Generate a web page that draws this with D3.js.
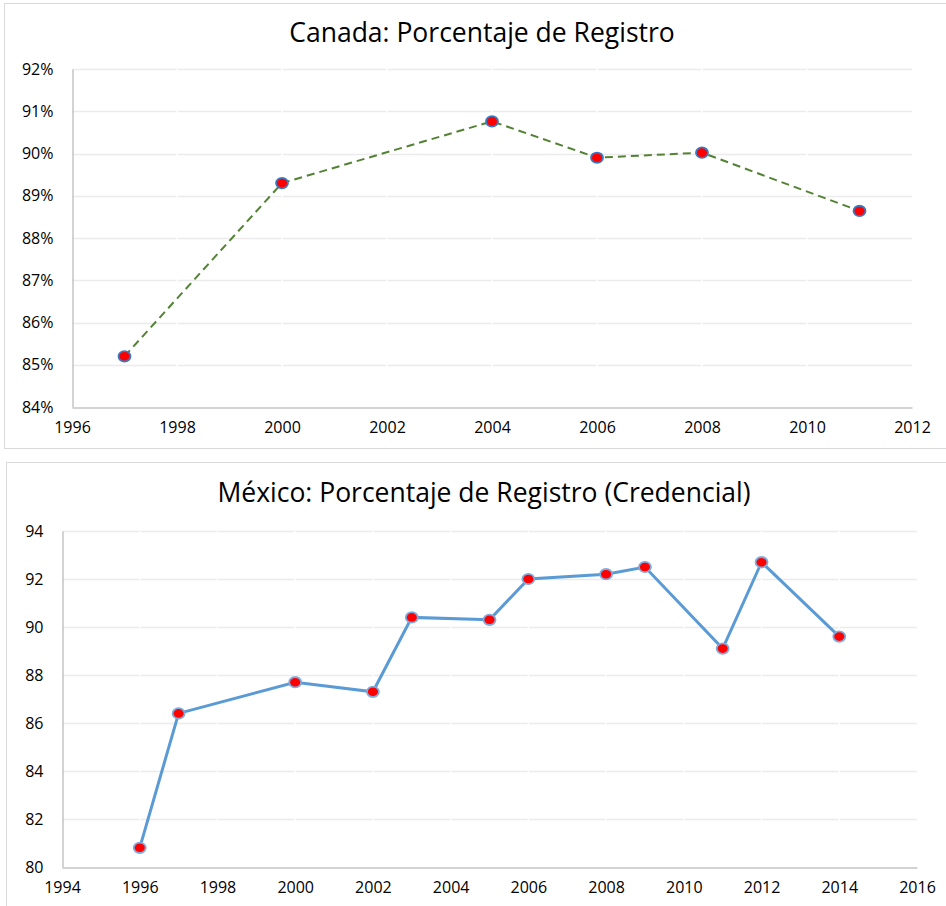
<!DOCTYPE html>
<html>
<head>
<meta charset="utf-8">
<script src="https://d3js.org/d3.v7.min.js"></script>
<style>
    body { margin: 0; background: #fff; }
    text { font-family: "Open Sans", "Noto Sans", sans-serif; fill: #404040; }
</style>
</head>
<body>
<div id="chart"></div>
<script>
// chart data //
var canadaYears = [1997, 2000, 2004, 2006, 2008, 2011];
var canadaValues = [85.2, 89.3, 90.76, 89.9, 90.02, 88.64];
var canadaXTicks = [1996, 1998, 2000, 2002, 2004, 2006, 2008, 2010, 2012];
var canadaYTicks = [84, 85, 86, 87, 88, 89, 90, 91, 92];

var mexicoYears = [1996, 1997, 2000, 2002, 2003, 2005, 2006, 2008, 2009, 2011, 2012, 2014];
var mexicoValues = [80.8, 86.4, 87.7, 87.3, 90.4, 90.3, 92.0, 92.2, 92.5, 89.1, 92.7, 89.6];
var mexicoXTicks = [1994, 1996, 1998, 2000, 2002, 2004, 2006, 2008, 2010, 2012, 2014, 2016];
var mexicoYTicks = [80, 82, 84, 86, 88, 90, 92, 94];

var svg = d3.select("#chart")
        .append("svg")
        .attr("width", 946)
        .attr("height", 906);

// draw one line chart panel
    function makeLineChart(opts){
        var g = svg.append("g");

        // outer frame
        g.append("rect")
            .attr("x", opts.box[0] + 0.5)
            .attr("y", opts.box[1] + 0.5)
            .attr("width", opts.box[2])
            .attr("height", opts.box[3])
            .attr("fill", "#fff")
            .attr("stroke", "#d9d9d9");

        g.append("text")
            .attr("x", opts.titleX)
            .attr("y", opts.titleY)
            .attr("text-anchor", "middle")
            .style("font-size", "26.5px")
            .style("fill", "#000")
            .text(opts.title);

        var x = d3.scaleLinear()
                .domain(d3.extent(opts.xTicks))
                .range([opts.left, opts.right]);

        var y = d3.scaleLinear()
                .domain(d3.extent(opts.yTicks))
                .range([opts.bottom, opts.top]);

        // horizontal gridlines
        g.selectAll(".hgrid")
            .data(opts.yTicks.slice(1))
            .enter()
            .append("line")
            .attr("x1", opts.left)
            .attr("x2", opts.right)
            .attr("y1", function(d){ return Math.round(y(d)) + 0.5; })
            .attr("y2", function(d){ return Math.round(y(d)) + 0.5; })
            .attr("stroke", "#ebebeb")
            .attr("stroke-width", 1.5);

        // white vertical gaps like the original
        g.selectAll(".vgrid")
            .data(opts.xTicks.slice(1, -1))
            .enter()
            .append("line")
            .attr("x1", function(d){ return x(d); })
            .attr("x2", function(d){ return x(d); })
            .attr("y1", opts.top)
            .attr("y2", opts.bottom - 1)
            .attr("stroke", "#fff")
            .attr("stroke-width", 1.5);

        // axes
        var xAxis = d3.axisBottom(x)
                .tickValues(opts.xTicks)
                .tickSize(0)
                .tickPadding(14)
                .tickFormat(d3.format("d"));

        var yAxis = d3.axisLeft(y)
                .tickValues(opts.yTicks)
                .tickSize(0)
                .tickPadding(opts.yPad)
                .tickFormat(opts.yFormat);

        var gx = g.append("g")
            .attr("transform", "translate(0," + (Math.round(opts.bottom) + 0.5) + ")")
            .call(xAxis);
        gx.select(".domain").attr("stroke", "#c4c4c4").attr("stroke-width", 1.5);
        gx.selectAll("text").style("font-size", "16px").style("fill", "#000");

        var gy = g.append("g")
            .attr("transform", "translate(" + (Math.round(opts.left) + 0.5) + ",0)")
            .call(yAxis);
        gy.select(".domain").attr("stroke", "#c4c4c4").attr("stroke-width", 1.5);
        gy.selectAll("text").style("font-size", "16px").style("fill", "#000");

        var pts = opts.years.map(function(d, i){ return [d, opts.values[i]]; });

        var line = d3.line()
                .x(function(d){ return x(d[0]); })
                .y(function(d){ return y(d[1]); });

        g.append("path")
            .datum(pts)
            .attr("d", line)
            .attr("fill", "none")
            .attr("stroke", opts.lineColor)
            .attr("stroke-width", opts.lineWidth)
            .attr("stroke-dasharray", opts.dash);

        g.selectAll(".dot")
            .data(pts)
            .enter()
            .append("ellipse")
            .attr("cx", function(d){ return x(d[0]); })
            .attr("cy", function(d){ return y(d[1]); })
            .attr("rx", 6)
            .attr("ry", 5.2)
            .attr("fill", "#ff0000")
            .attr("stroke", opts.dotStroke)
            .attr("stroke-width", 1.8);
    }

makeLineChart({
    box: [4, 3, 946, 445],
    title: "Canada: Porcentaje de Registro",
    titleX: 482, titleY: 42,
    years: canadaYears, values: canadaValues,
    xTicks: canadaXTicks, yTicks: canadaYTicks,
    left: 72, right: 912, top: 69, bottom: 407,
    yPad: 19,
    yFormat: function(d){ return d + "%"; },
    lineColor: "#548235", lineWidth: 2, dash: "8,5",
    dotStroke: "#3b78c2"
});

makeLineChart({
    box: [6, 462, 946, 460],
    title: "México: Porcentaje de Registro (Credencial)",
    titleX: 484, titleY: 502,
    years: mexicoYears, values: mexicoValues,
    xTicks: mexicoXTicks, yTicks: mexicoYTicks,
    left: 62, right: 917, top: 531, bottom: 867,
    yPad: 19,
    yFormat: function(d){ return d; },
    lineColor: "#5b9bd5", lineWidth: 3, dash: null,
    dotStroke: "#7fabdd"
});
</script>
</body>
</html>
